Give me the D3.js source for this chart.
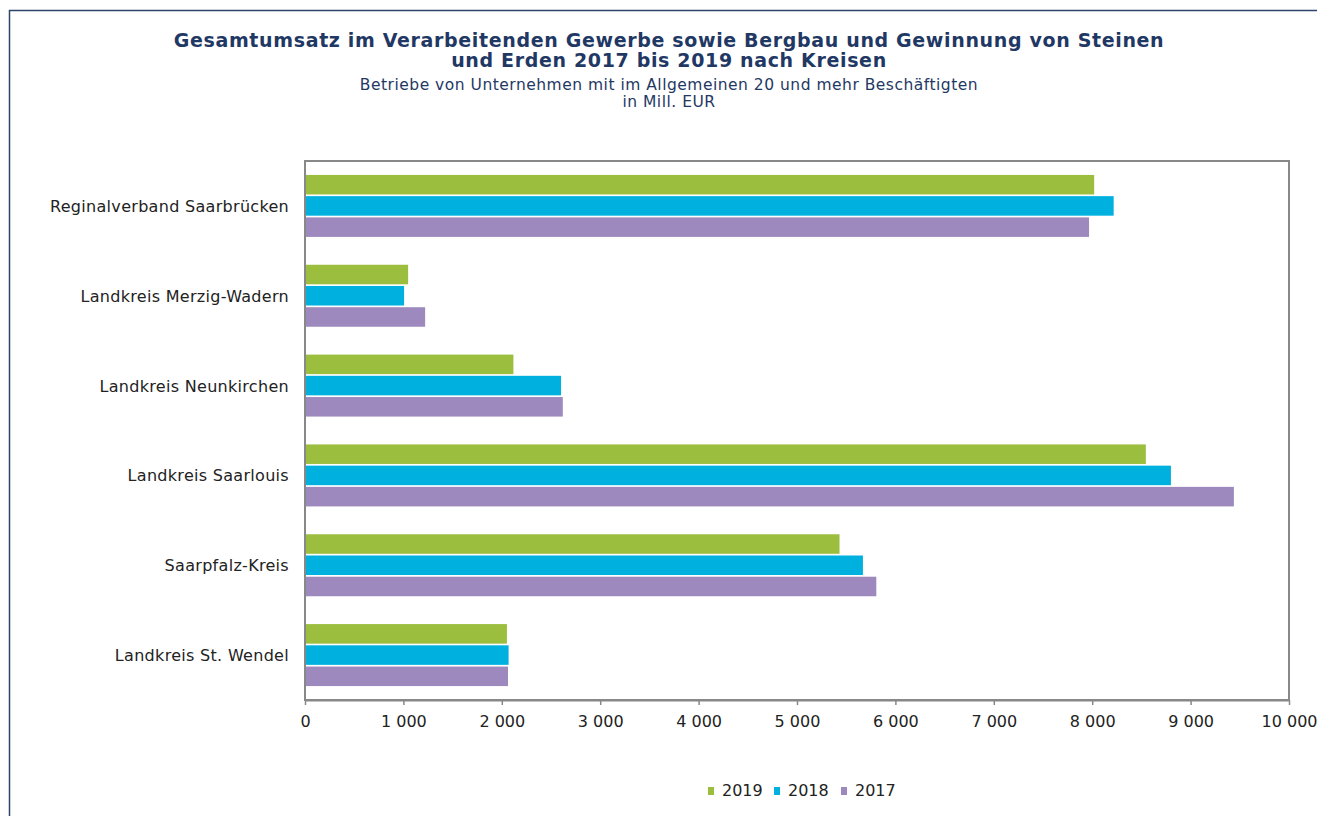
<!DOCTYPE html>
<html><head><meta charset="utf-8">
<script src="https://cdn.jsdelivr.net/npm/d3@7"></script>
<style>body{margin:0;background:#fff}svg{display:block}</style>
</head><body>
<script>
const categories = ["Reginalverband Saarbrücken","Landkreis Merzig-Wadern","Landkreis Neunkirchen","Landkreis Saarlouis","Saarpfalz-Kreis","Landkreis St. Wendel"];
const seriesNames = ["2019","2018","2017"];
const values2019 = [8020, 1048, 2118, 8545, 5432, 2052];
const values2018 = [8218, 1007, 2602, 8800, 5670, 2069];
const values2017 = [7968, 1221, 2620, 9440, 5806, 2063];
const seriesColors = ["#9BBE3E","#00B0DE","#9D89BD"];
const xTicks = [0,1000,2000,3000,4000,5000,6000,7000,8000,9000,10000];
const titleLines = ["Gesamtumsatz im Verarbeitenden Gewerbe sowie Bergbau und Gewinnung von Steinen","und Erden 2017 bis 2019 nach Kreisen"];
const subtitleLines = ["Betriebe von Unternehmen mit im Allgemeinen 20 und mehr Beschäftigten","in Mill. EUR"];

const seriesValues = [values2019, values2018, values2017];
const W = 1317, H = 816;
const font = "'DejaVu Sans', Verdana, sans-serif";
const navy = "#1F3864";
const svg = d3.select("body").append("svg").attr("width", W).attr("height", H);

// outer frame
svg.append("path").attr("d", `M9.5,${H} V10.5 H${W}`).attr("fill","none").attr("stroke", "#2E4468").attr("stroke-width",1.5);

// titles
const tg = svg.append("g").attr("font-family", font).attr("fill", navy).attr("text-anchor","middle");
tg.selectAll("text.t").data(titleLines).join("text").attr("class","t")
  .attr("x", 669).attr("y", (d,i)=>47 + i*20).attr("font-size", 19).attr("font-weight","bold")
  .attr("letter-spacing", 0.65).text(d=>d);
tg.selectAll("text.s").data(subtitleLines).join("text").attr("class","s")
  .attr("x", 669).attr("y", (d,i)=>90 + i*17).attr("font-size", 15.5).attr("letter-spacing", 0.5).text(d=>d);

const m = {l:305, r:1289, t:161, b:700};
const x = d3.scaleLinear().domain([0,10000]).range([m.l, m.r]);
const y = d3.scaleBand().domain(categories).range([m.t, m.b]).paddingInner(0.31).paddingOuter(0.155);
const yi = d3.scaleBand().domain(seriesNames).range([0, y.bandwidth()]).paddingInner(0.08);

// plot frame
svg.append("rect").attr("x", m.l).attr("y", m.t).attr("width", m.r-m.l).attr("height", m.b-m.t)
  .attr("fill","none").attr("stroke","#888").attr("stroke-width",2);

// bars
const data = [];
categories.forEach((c,ci)=>seriesNames.forEach((s,si)=>data.push({c, s, si, v: seriesValues[si][ci]})));
svg.append("g").selectAll("rect").data(data).join("rect")
  .attr("x", x(0)+1).attr("y", d=>y(d.c)+yi(d.s))
  .attr("width", d=>x(d.v)-x(0)-1).attr("height", yi.bandwidth())
  .attr("fill", d=>seriesColors[d.si]);

// x axis
const xa = svg.append("g").attr("transform",`translate(0,${m.b})`)
  .call(d3.axisBottom(x).tickValues(xTicks).tickSize(5).tickSizeOuter(0).tickFormat(d=>d3.format(",")(d).replace(/,/g," ")));
xa.select(".domain").attr("stroke","#888").attr("stroke-width",2);
xa.selectAll(".tick line").attr("stroke","#888").attr("stroke-width",1.5);
xa.selectAll(".tick text").attr("font-family", font).attr("font-size", 16).attr("fill","#222").attr("y", 16);

// y labels
svg.append("g").selectAll("text").data(categories).join("text")
  .attr("x", 289).attr("y", d=>y(d)+y.bandwidth()/2).attr("dy","0.37em")
  .attr("text-anchor","end").attr("font-family", font).attr("font-size", 16).attr("letter-spacing", 0.3)
  .attr("fill","#222").text(d=>d);

// legend
const lg = svg.append("g").attr("font-family", font).attr("font-size", 16).attr("fill","#222");
const lx = [708, 774, 841];
seriesNames.forEach((s,i)=>{
  lg.append("rect").attr("x", lx[i]).attr("y", 787).attr("width", 6).attr("height", 8).attr("fill", seriesColors[i]);
  lg.append("text").attr("x", lx[i]+14).attr("y", 796).text(s);
});
</script>
</body></html>
